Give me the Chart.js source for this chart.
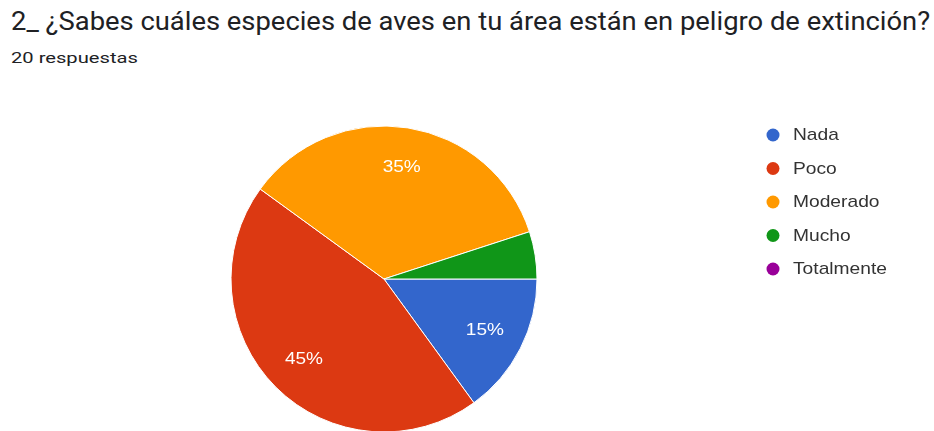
<!DOCTYPE html>
<html>
<head>
<meta charset="utf-8">
<script src="https://cdn.jsdelivr.net/npm/chart.js@4"></script>
<style>
  html, body { margin: 0; padding: 0; background: #fff; overflow: hidden; }
  #wrap { position: relative; width: 934px; height: 431px; }
  #title { position: absolute; left: 11px; top: 7px; font-family: Roboto, sans-serif; font-size: 25px; color: #202124; white-space: nowrap; transform: scaleX(1.095); transform-origin: 0 0; }
  #sub { position: absolute; left: 11px; top: 49px; font-family: Roboto, sans-serif; font-size: 15.5px; color: #202124; white-space: nowrap; transform: scaleX(1.3); transform-origin: 0 0; }
  canvas { position: absolute; left: 0; top: 0; }
</style>
</head>
<body>
<div id="wrap">
  <div id="title">2_ ¿Sabes cuáles especies de aves en tu área están en peligro de extinción?</div>
  <div id="sub">20 respuestas</div>
  <canvas id="c" width="934" height="431"></canvas>
</div>
<script>
// Respuestas por opción
const categories = ['Nada', 'Poco', 'Moderado', 'Mucho', 'Totalmente'];
const counts = [3, 9, 7, 1, 0];
const colors = ['#3366cc', '#dc3912', '#ff9900', '#109618', '#990099'];

const total = counts.reduce((a, b) => a + b, 0);

// Texto ligeramente ensanchado en horizontal
function wideText(ctx, text, x, y, sx, align) {
  ctx.save();
  ctx.translate(x, y);
  ctx.scale(sx, 1);
  ctx.textAlign = align;
  ctx.fillText(text, 0, 0);
  ctx.restore();
}

// Porcentajes en blanco dentro de los sectores grandes
const sliceLabels = {
  id: 'sliceLabels',
  afterDatasetsDraw(chart) {
    const ctx = chart.ctx;
    const meta = chart.getDatasetMeta(0);
    ctx.save();
    ctx.font = '17px "Liberation Sans", Arial, sans-serif';
    ctx.fillStyle = '#ffffff';
    ctx.textBaseline = 'middle';
    meta.data.forEach((arc, i) => {
      const v = chart.data.datasets[0].data[i];
      const pct = v / total * 100;
      if (pct < 10) return;
      const p = arc.getProps(['x', 'y', 'startAngle', 'endAngle', 'outerRadius'], true);
      const mid = (p.startAngle + p.endAngle) / 2;
      const r = p.outerRadius * 0.74;
      wideText(ctx, Math.round(pct) + '%', p.x + Math.cos(mid) * r, p.y + Math.sin(mid) * r, 1.12, 'center');
    });
    ctx.restore();
  }
};

// Leyenda vertical a la derecha con marcadores circulares
const sideLegend = {
  id: 'sideLegend',
  afterDraw(chart) {
    const ctx = chart.ctx;
    const ds = chart.data.datasets[0];
    ctx.save();
    ctx.font = '17px "Liberation Sans", Arial, sans-serif';
    ctx.textBaseline = 'middle';
    chart.data.labels.forEach((lab, i) => {
      const y = 135 + i * 33.5;
      ctx.fillStyle = ds.backgroundColor[i];
      ctx.beginPath();
      ctx.arc(773, y, 6.5, 0, Math.PI * 2);
      ctx.fill();
      ctx.fillStyle = '#333333';
      wideText(ctx, lab, 793, y + 0.5, 1.13, 'left');
    });
    ctx.restore();
  }
};

new Chart(document.getElementById('c'), {
  type: 'pie',
  data: {
    labels: categories,
    datasets: [{
      data: counts,
      backgroundColor: colors,
      borderColor: '#ffffff',
      borderWidth: 1,
      radius: 153,
      clip: false
    }]
  },
  options: {
    responsive: false,
    animation: false,
    rotation: 90,
    layout: { padding: { left: 0, right: 166, top: 127, bottom: 0 } },
    plugins: {
      legend: { display: false },
      tooltip: { enabled: false }
    }
  },
  plugins: [sliceLabels, sideLegend]
});
</script>
</body>
</html>
